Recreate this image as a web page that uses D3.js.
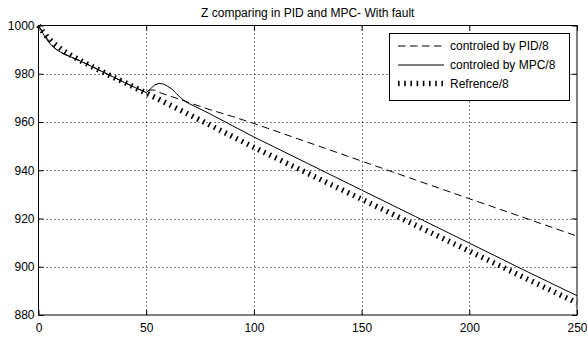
<!DOCTYPE html>
<html><head><meta charset="utf-8">
<script src="https://cdn.jsdelivr.net/npm/d3@7"></script>
<style>body{margin:0;background:#fff}svg{display:block}text{font-family:"Liberation Sans",Arial,sans-serif;fill:#000}</style>
</head><body><svg id="c" width="587" height="340"></svg>
<script>
const title = "Z comparing in PID and MPC- With fault";
const xTicks = [0, 50, 100, 150, 200, 250];
const yTicks = [880, 900, 920, 940, 960, 980, 1000];
const seriesNames = ["controled by PID/8", "controled by MPC/8", "Refrence/8"];

const refT = [0,2,4,6,8,10,12,15,20,25,30,35,40,45,50,75,100,125,150,175,200,225,250];
const refV = [1000,997.5,995.3,993.5,992,990.6,989.3,987.7,985.2,982.9,980.7,978.5,976.4,974.2,972,960.8,949.5,938.7,928,917.2,906.5,895.7,885];

const mpcT = [0,2,4,6,8,10,12,15,20,25,30,35,40,45,50,52,54,56,58,60,62,64,66,68,70,73,80,90,100,125,150,175,200,225,250];
const mpcV = [1000,996.8,994,991.8,990.2,989.1,988.2,987,985,982.9,980.7,978.5,976.3,974.2,972.2,973.8,975.4,976,975.7,974.8,973.6,971.8,970,968.6,967.6,966.3,963.2,958.5,953.8,942.8,931.8,920.8,909.8,898.8,888];

const pidT = [0,2,4,6,8,10,12,15,20,25,30,35,40,45,50,52,54,56,60,65,70,80,90,100,125,150,175,200,225,250];
const pidV = [1000,997.2,994.6,992.2,990.3,989,988,987,985.1,982.9,980.7,978.5,976.4,974.2,972.3,973.3,973.2,972.3,971,969.6,968,965,962.3,959.4,951.6,943.8,936,928.2,920.5,912.7];

const L = 38.5, R = 577, T = 25.5, B = 315;
const x = d3.scaleLinear().domain([0, 250]).range([L, R]);
const y = d3.scaleLinear().domain([880, 1000]).range([B, T]);
const svg = d3.select("#c");

// gridlines
const g = svg.append("g");
g.selectAll(".vg").data(xTicks.slice(1, -1)).enter().append("line")
  .attr("x1", d => Math.round(x(d)) + 0.5).attr("x2", d => Math.round(x(d)) + 0.5)
  .attr("y1", T).attr("y2", B).attr("stroke", "#000").attr("stroke-width", 1).attr("stroke-dasharray", "1,3");
g.selectAll(".hg").data(yTicks.slice(1, -1)).enter().append("line")
  .attr("y1", d => Math.round(y(d)) + 0.5).attr("y2", d => Math.round(y(d)) + 0.5)
  .attr("x1", L).attr("x2", R).attr("stroke", "#000").attr("stroke-width", 1).attr("stroke-dasharray", "1,3");

// axes
const fmt = d3.format("d");
const xa = d3.axisBottom(x).tickValues(xTicks).tickFormat(fmt).tickSizeInner(-5).tickSizeOuter(0).tickPadding(8);
const ya = d3.axisLeft(y).tickValues(yTicks).tickFormat(fmt).tickSizeInner(-5).tickSizeOuter(0).tickPadding(4);
const xg = svg.append("g").attr("transform", `translate(0,${B})`).call(xa);
const yg = svg.append("g").attr("transform", `translate(${L},0)`).call(ya);
const xt = svg.append("g").attr("transform", `translate(0,${T})`).call(d3.axisTop(x).tickValues(xTicks).tickSizeInner(-5).tickSizeOuter(0).tickFormat(""));
const yr = svg.append("g").attr("transform", `translate(${R},0)`).call(d3.axisRight(y).tickValues(yTicks).tickSizeInner(-5).tickSizeOuter(0).tickFormat(""));
[xg, yg, xt, yr].forEach(a => {
  a.select(".domain").remove();
  a.selectAll("line").attr("stroke", "#000");
  a.selectAll("text").attr("font-size", 12).attr("font-family", "Liberation Sans, Arial, sans-serif").attr("fill", "#000");
});
svg.append("rect").attr("x", L).attr("y", T).attr("width", R - L).attr("height", B - T)
  .attr("fill", "none").attr("stroke", "#000").attr("stroke-width", 1);

// lines
const line = (tArr, vArr) => d3.line().x((d, i) => x(tArr[i])).y((d, i) => y(vArr[i]))(vArr);
svg.append("path").attr("d", line(refT, refV)).attr("fill", "none").attr("stroke", "#000")
  .attr("stroke-width", 5.5).attr("stroke-dasharray", "1.6,4.6");
svg.append("path").attr("d", line(pidT, pidV)).attr("fill", "none").attr("stroke", "#000")
  .attr("stroke-width", 1).attr("stroke-dasharray", "7.5,4.5");
svg.append("path").attr("d", line(mpcT, mpcV)).attr("fill", "none").attr("stroke", "#000")
  .attr("stroke-width", 1);

// title
svg.append("text").attr("x", (L + R) / 2).attr("y", 17).attr("text-anchor", "middle")
  .attr("font-size", 12).text(title);

// legend
const lg = svg.append("g");
lg.append("rect").attr("x", 389.5).attr("y", 33.5).attr("width", 180).attr("height", 67)
  .attr("fill", "#fff").attr("stroke", "#000");
const rowsY = [46, 65, 83.5];
const styles = [{w: 1, da: "7.5,4.5"}, {w: 1, da: null}, {w: 5.5, da: "1.6,4.6"}];
seriesNames.forEach((n, i) => {
  lg.append("line").attr("x1", 398).attr("x2", 444).attr("y1", rowsY[i]).attr("y2", rowsY[i])
    .attr("stroke", "#000").attr("stroke-width", styles[i].w).attr("stroke-dasharray", styles[i].da);
  lg.append("text").attr("x", 450).attr("y", rowsY[i]).attr("dy", "0.35em").attr("font-size", 12).text(n);
});
</script></body></html>
